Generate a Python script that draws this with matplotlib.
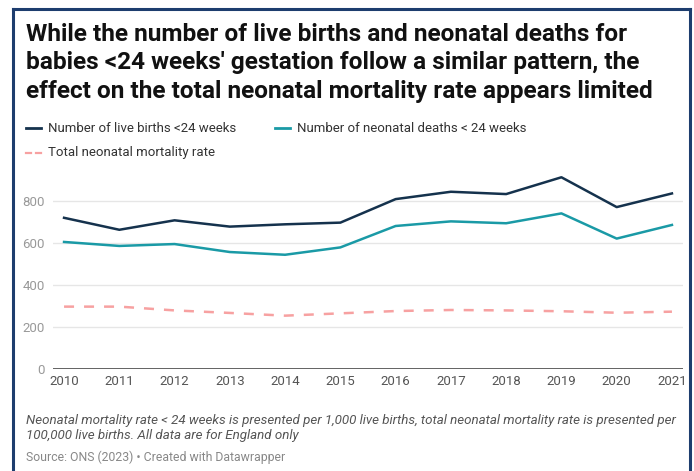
import matplotlib.pyplot as plt
from matplotlib.lines import Line2D

plt.rcParams['font.family'] = ['Roboto', 'DejaVu Sans']

# data
years = [2010, 2011, 2012, 2013, 2014, 2015, 2016, 2017, 2018, 2019, 2020, 2021]
live_births = [720, 663, 708, 678, 689, 697, 809, 844, 833, 913, 771, 836]
neonatal_deaths = [605, 586, 595, 557, 544, 579, 681, 703, 694, 741, 621, 686]
total_rate = [297, 297, 279, 267, 254, 265, 276, 281, 279, 275, 268, 273]
yticks = [0, 200, 400, 600, 800]

c_births = '#15324d'
c_deaths = '#1a9aa6'
c_rate = '#f7a1a1'

W, H = 694, 471
fig = plt.figure(figsize=(W / 100, H / 100), dpi=100)
fig.patch.set_facecolor('white')

def fx(px):
    return px / W

def fy(py):
    return 1 - py / H

# dark frame around the card
frame = '#1d3d6e'
fig.add_artist(Line2D([fx(13), fx(13)], [fy(9), 0], color=frame, lw=2.2))
fig.add_artist(Line2D([fx(13), fx(690)], [fy(9), fy(9)], color=frame, lw=2.2))
fig.add_artist(Line2D([fx(690), fx(690)], [fy(9), 0], color=frame, lw=2.2))

# title
title = ("While the number of live births and neonatal deaths for\n"
         "babies <24 weeks' gestation follow a similar pattern, the\n"
         "effect on the total neonatal mortality rate appears limited")
fig.text(fx(26), fy(23), title, fontsize=17.6, fontweight='bold', color='#111111',
         va='top', ha='left', linespacing=1.3)

# legend
def legend_item(x, y, color, label, dashed=False):
    if dashed:
        fig.add_artist(Line2D([fx(x), fx(x + 5)], [fy(y), fy(y)], color=color, lw=1.6))
        fig.add_artist(Line2D([fx(x + 10), fx(x + 15)], [fy(y), fy(y)], color=color, lw=1.6))
    else:
        fig.add_artist(Line2D([fx(x), fx(x + 15)], [fy(y), fy(y)], color=color, lw=2))
    fig.text(fx(x + 22), fy(y), label, fontsize=9.5, color='#333333', va='center', ha='left')

legend_item(26, 128, c_births, 'Number of live births <24 weeks')
legend_item(275, 128, c_deaths, 'Number of neonatal deaths < 24 weeks')
legend_item(26, 153, c_rate, 'Total neonatal mortality rate', dashed=True)

# chart
ax = fig.add_axes([fx(53), fy(369), fx(683) - fx(53), fy(175) - fy(369)])
ax.set_facecolor('none')
ax.plot(years, live_births, color=c_births, lw=1.8)
ax.plot(years, neonatal_deaths, color=c_deaths, lw=1.8)
ax.plot(years, total_rate, color=c_rate, lw=1.8, dashes=(4, 4))

ax.set_ylim(0, (369 - 175) / 0.21)
ax.set_xlim(2010 - 0.2, 2021 + 0.2)
ax.set_yticks(yticks)
ax.set_xticks(years)
ax.grid(axis='y', color='#e6e6e6', lw=1)
ax.set_axisbelow(True)
for s in ax.spines.values():
    s.set_visible(False)
ax.axhline(0, color='#555555', lw=2, zorder=1)
ax.tick_params(axis='both', length=0, labelsize=9.5, labelcolor='#999999')
ax.tick_params(axis='y', pad=6)
ax.tick_params(axis='x', pad=4)
ax.set_xticklabels([str(y) for y in years], color='#555555')

# footer
note = ("Neonatal mortality rate < 24 weeks is presented per 1,000 live births, "
        "total neonatal mortality rate is presented per\n"
        "100,000 live births. All data are for England only")
fig.text(fx(26), fy(414), note, fontsize=9.6, style='italic', color='#555555',
         va='top', ha='left', linespacing=1.25)
fig.text(fx(26), fy(457), 'Source: ONS (2023) \u2022 Created with Datawrapper',
         fontsize=8.8, color='#888888', va='center', ha='left')

fig.savefig('out.png', dpi=100)
